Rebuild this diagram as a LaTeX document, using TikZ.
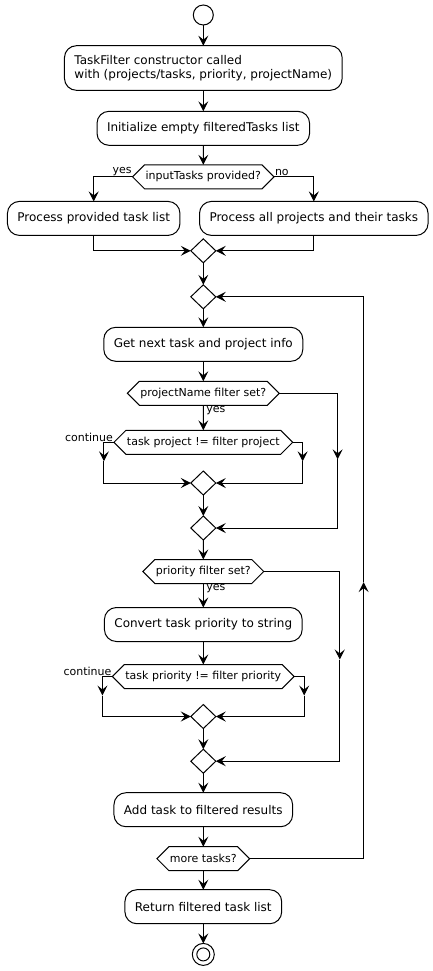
\documentclass[tikz,border=0pt]{standalone}
\usepackage{fontspec}
\setmainfont{DejaVu Sans}
\usetikzlibrary{positioning, shapes.geometric, shapes.symbols, arrows.meta}

\tikzset{
  actbox/.style = {draw, rounded corners=12pt, minimum height=34pt, inner xsep=10pt, inner ysep=9.5pt, font=\fontsize{12}{14}\selectfont},
  testbox/.style = {draw, signal, signal to=west and east, signal pointer angle=90, minimum height=24pt, inner xsep=1pt, inner ysep=2pt, font=\fontsize{11}{13}\selectfont},
  joinnode/.style = {draw, diamond, minimum width=25pt, minimum height=24pt, inner sep=0pt},
  lbl/.style = {inner sep=1pt, font=\fontsize{11}{13}\selectfont},
  flow/.style = {-{Stealth[length=10pt, width=10pt, inset=4pt]}}
}

\begin{document}
\begin{tikzpicture}[x=1pt, y=-1pt, node distance=20pt, line width=1pt, outer sep=0pt]
	\useasboundingbox (0,0) rectangle (433,971);
	% main column
	\node[draw, circle, minimum size=20pt, inner sep=0pt] (start) at (203.3,15) {};
	\node[actbox, align=left, below=20.7pt of start] (ctor) {TaskFilter constructor called\\with (projects/tasks, priority, projectName)};
	\node[actbox, below=21pt of ctor] (empty) {Initialize empty filteredTasks list};
	\node[testbox, below=19.5pt of empty] (inputq) {inputTasks provided?};
	\node[actbox] (given) at (93.7,218.4) {Process provided task list};
	\node[actbox] (allproj) at (313.8,218.4) {Process all projects and their tasks};
	\node[joinnode, below=50pt of inputq] (joinA) {};
	% loop body
	\node[joinnode, below=22pt of joinA] (loopj) {};
	\node[actbox, below=18.5pt of loopj] (nexttask) {Get next task and project info};
	\node[testbox, below=20pt of nexttask] (projq) {projectName filter set?};
	\node[testbox, below=25pt of projq] (projne) {task project != filter project};
	\node[joinnode, below=16.7pt of projne] (joinB) {};
	\node[joinnode, below=21pt of joinB] (joinC) {};
	\node[testbox, below=19.5pt of joinC] (prioq) {priority filter set?};
	\node[actbox, below=24pt of prioq] (convert) {Convert task priority to string};
	\node[testbox, below=23pt of convert] (prione) {task priority != filter priority};
	\node[joinnode, below=16pt of prione] (joinD) {};
	\node[joinnode, below=20.7pt of joinD] (joinE) {};
	\node[actbox, below=19.5pt of joinE] (addtask) {Add task to filtered results};
	\node[testbox, below=20pt of addtask] (moreq) {more tasks?};
	\node[actbox, below=19pt of moreq] (ret) {Return filtered task list};
	\node[draw, circle, minimum size=22pt, inner sep=0pt, below=19.7pt of ret] (stop) {};
	\node[draw, circle, minimum size=13pt, inner sep=0pt] (stopin) at (stop) {};
	% labels
	\node[lbl, anchor=south east] (yesA) at (inputq.west) {yes};
	\node[lbl, anchor=south west] (noA) at (inputq.east) {no};
	\node[lbl, anchor=north west, xshift=2pt] (yesB) at (projq.south) {yes};
	\node[lbl, anchor=south east] (contA) at (projne.west) {continue};
	\node[lbl, anchor=north west, xshift=2pt] (yesC) at (prioq.south) {yes};
	\node[lbl, anchor=south east] (contB) at (prione.west) {continue};
	% bend points
	\coordinate[below left=19pt and 10pt of projne.west] (projL);
	\coordinate[below right=19pt and 10pt of projne.east] (projR);
	\coordinate[below left=19pt and 10pt of prione.west] (prioL);
	\coordinate[below right=19pt and 10pt of prione.east] (prioR);
	\coordinate[below right=66pt and 58.4pt of projq.east] (skipA);
	\coordinate[below right=88pt and 76pt of prioq.east] (skipB);
	\coordinate[above right=276.6pt and 114pt of moreq.east] (loopback);
	% connectors
	\draw[flow] (start) -- (ctor);
	\draw[flow] (ctor) -- (empty);
	\draw[flow] (empty) -- (inputq);
	\draw[flow] (inputq.west) -| (given.north);
	\draw[flow] (inputq.east) -| (allproj.north);
	\draw[flow] (given.south) |- (joinA.west);
	\draw[flow] (allproj.south) |- (joinA.east);
	\draw[flow] (joinA) -- (loopj);
	\draw[flow] (loopj) -- (nexttask);
	\draw[flow] (nexttask) -- (projq);
	\draw[flow] (projq) -- (projne);
	\draw[flow] (projne.west) -| (projL);
	\draw[flow] (projL) |- (joinB.west);
	\draw[flow] (projne.east) -| (projR);
	\draw[flow] (projR) |- (joinB.east);
	\draw[flow] (projq.east) -| (skipA);
	\draw[flow] (skipA) |- (joinC.east);
	\draw[flow] (joinB) -- (joinC);
	\draw[flow] (joinC) -- (prioq);
	\draw[flow] (prioq) -- (convert);
	\draw[flow] (convert) -- (prione);
	\draw[flow] (prione.west) -| (prioL);
	\draw[flow] (prioL) |- (joinD.west);
	\draw[flow] (prione.east) -| (prioR);
	\draw[flow] (prioR) |- (joinD.east);
	\draw[flow] (prioq.east) -| (skipB);
	\draw[flow] (skipB) |- (joinE.east);
	\draw[flow] (joinD) -- (joinE);
	\draw[flow] (joinE) -- (addtask);
	\draw[flow] (addtask) -- (moreq);
	\draw[flow] (moreq.east) -| (loopback);
	\draw[flow] (loopback) |- (loopj.east);
	\draw[flow] (moreq) -- (ret);
	\draw[flow] (ret) -- (stop);
\end{tikzpicture}
\end{document}
